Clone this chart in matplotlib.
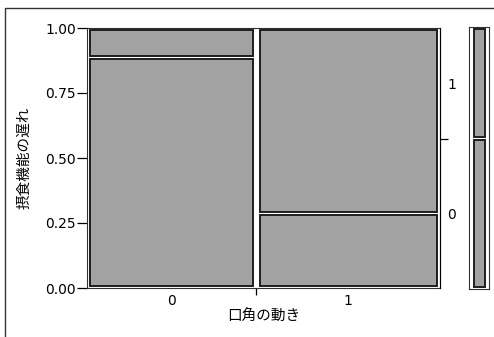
import matplotlib.pyplot as plt
from matplotlib.patches import Rectangle
from matplotlib.lines import Line2D

# mosaic data: x = 口角の動き, y = 摂食機能の遅れ
x_levels = ["0", "1"]
y_levels = ["0", "1"]
col_widths = [0.48, 0.52]        # share of each x level
share_y0 = [0.888, 0.286]        # share of y=0 inside each column
y_ticks = [0.0, 0.25, 0.5, 0.75, 1.0]
y_tick_labels = ["0.00", "0.25", "0.50", "0.75", "1.00"]

plt.rcParams["font.family"] = ["DejaVu Sans", "Noto Sans CJK JP"]
jp = ["Noto Sans CJK JP", "DejaVu Sans"]

fill = "#a2a2a2"
edge = "#1e1e1e"

fig = plt.figure(figsize=(4.94, 3.37), dpi=100)
ax = fig.add_axes([87 / 494, 49 / 337, 353 / 494, 260 / 337])

gx = 0.009
gy = 0.006
left = 0.0
for w, s in zip(col_widths, share_y0):
    # y=0 tile (bottom) and y=1 tile (top)
    ax.add_patch(Rectangle((left + gx, gy), w - 2 * gx, s - 2 * gy,
                           facecolor=fill, edgecolor=edge, lw=1.4))
    ax.add_patch(Rectangle((left + gx, s + gy), w - 2 * gx, 1 - s - 2 * gy,
                           facecolor=fill, edgecolor=edge, lw=1.4))
    left += w

ax.set_xlim(0, 1)
ax.set_ylim(0, 1)
for sp in ax.spines.values():
    sp.set_linewidth(0.8)
    sp.set_color("#333333")

ax.set_yticks(y_ticks)
ax.set_yticklabels(y_tick_labels, fontsize=10)
ax.tick_params(axis="y", length=7, width=0.9, pad=1)

centers = []
left = 0.0
for w in col_widths:
    centers.append(left + w / 2)
    left += w
ax.set_xticks([col_widths[0]])
ax.set_xticklabels([""])
ax.set_xticks(centers, minor=True)
ax.set_xticklabels(x_levels, minor=True, fontsize=10)
ax.tick_params(axis="x", which="major", length=5, width=0.9)
ax.tick_params(axis="x", which="minor", length=0, pad=4)

ax.set_xlabel("口角の動き", family=jp, fontsize=10.5, labelpad=2)
ax.set_ylabel("摂食機能の遅れ", family=jp, fontsize=10.5, labelpad=10)

# right axis: marginal y distribution
marg0 = sum(w * s for w, s in zip(col_widths, share_y0))
ax2 = ax.twinx()
ax2.set_ylim(0, 1)
for name in ["left", "top", "bottom"]:
    ax2.spines[name].set_visible(False)
ax2.spines["right"].set_linewidth(0.8)
ax2.set_yticks([marg0])
ax2.set_yticklabels([""])
ax2.set_yticks([marg0 / 2, (1 + marg0) / 2], minor=True)
ax2.set_yticklabels(y_levels, minor=True, fontsize=10)
ax2.tick_params(axis="y", which="major", length=6, width=0.9)
ax2.tick_params(axis="y", which="minor", length=0, pad=5)

# marginal bar
axm = fig.add_axes([469 / 494, 48 / 337, 20 / 494, 262 / 337])
axm.set_xlim(0, 1)
axm.set_ylim(0, 1)
axm.set_xticks([])
axm.set_yticks([])
for sp in axm.spines.values():
    sp.set_linewidth(0.8)
    sp.set_color("#333333")
axm.add_patch(Rectangle((0.25, 0.008), 0.55, marg0 - 0.014,
                        facecolor=fill, edgecolor=edge, lw=1.4))
axm.add_patch(Rectangle((0.25, marg0 + 0.006), 0.55, 1 - marg0 - 0.014,
                        facecolor=fill, edgecolor=edge, lw=1.4))

# outer frame
fy = (337 - 8) / 337
fx = 5 / 494
fig.add_artist(Line2D([fx, fx, 1], [0, fy, fy], color="#333333", lw=1,
                      transform=fig.transFigure))

fig.savefig("out.png", dpi=100)
